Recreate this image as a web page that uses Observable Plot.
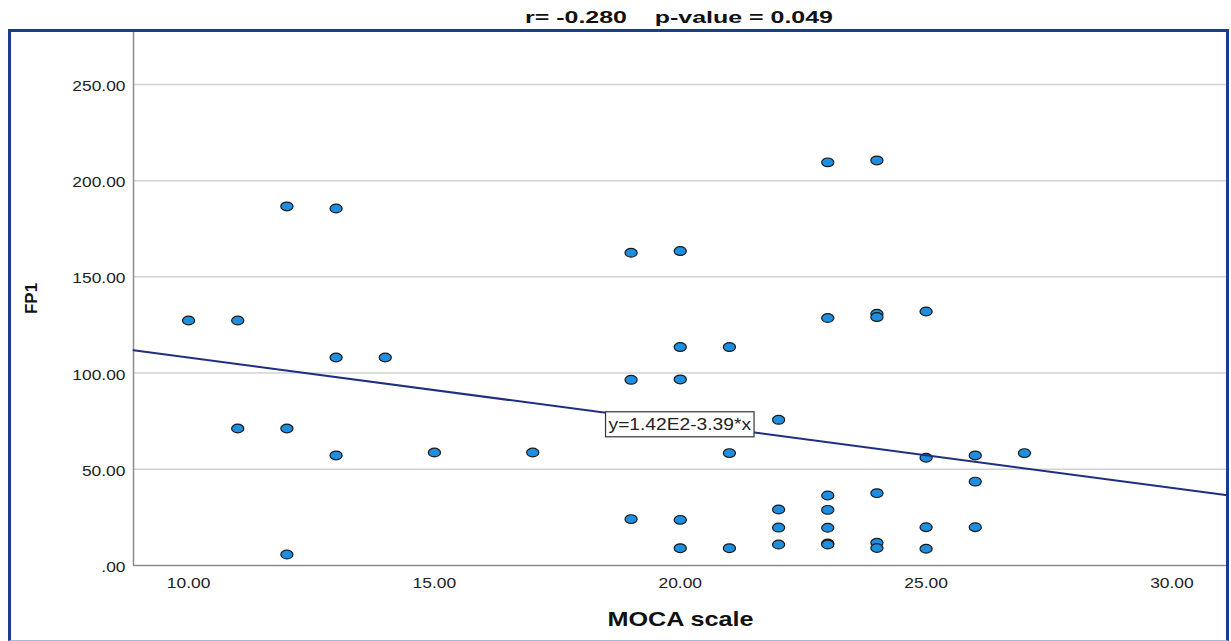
<!DOCTYPE html>
<html><head><meta charset="utf-8">
<script src="https://cdn.jsdelivr.net/npm/d3@7"></script>
<script src="https://cdn.jsdelivr.net/npm/@observablehq/plot@0.6"></script>
<style>
html,body{margin:0;padding:0;background:#fff;}
#page{position:relative;width:1231px;height:641px;overflow:hidden;font-family:"Liberation Sans",Arial,sans-serif;}
#title{position:absolute;left:679px;top:9px;font-weight:bold;font-size:17px;line-height:17px;white-space:pre;color:#111;transform-origin:center;}
#chart{position:absolute;left:0;top:29px;}
#frame{position:absolute;left:8px;top:29px;width:1221px;height:612px;box-sizing:border-box;border:3px solid #1c3a8e;border-bottom:1px solid #a8b8d8;pointer-events:none;}
</style></head><body>
<div id="page"><div id="title"></div><div id="chart"></div><div id="frame"></div></div>
<script>
const titleText = "r= -0.280    p-value = 0.049";
const xLabel = "MOCA scale";
const yLabel = "FP1";
const mocaScale = [10, 11, 11, 12, 12, 12, 13, 13, 13, 14, 15, 17,
  19, 19, 19, 20, 20, 20, 20, 20, 21, 21, 21,
  22, 22, 22, 22, 23, 23, 23, 23, 23, 23, 23,
  24, 24, 24, 24, 24, 24, 25, 25, 25, 25, 26, 26, 26, 27];
const fp1 = [127.3, 127.3, 71.2, 186.6, 71.2, 5.7, 185.5, 108.1, 57.2, 108.1, 58.7, 58.7,
  162.5, 96.5, 24.1, 163.4, 113.5, 96.7, 23.7, 9.0, 113.5, 58.4, 9.0,
  75.7, 29.1, 19.7, 10.9, 209.5, 128.6, 36.4, 28.9, 19.6, 11.4, 10.9,
  210.5, 130.8, 129.1, 37.6, 11.8, 9.1, 132.0, 56.0, 19.9, 8.7, 57.2, 43.6, 19.9, 58.4];
const xTicks = [10, 15, 20, 25, 30];
const yTicks = [0, 50, 100, 150, 200, 250];
const fitIntercept = 142;
const fitSlope = -3.39;
const fitLabel = "y=1.42E2-3.39*x";
const fitLabelAt = 18.46;
const xDomain = [8.88, 31.13];
const yDomain = [0, 277.5];

// title
const titleEl = document.getElementById("title");
titleEl.textContent = titleText;
const tw = titleEl.getBoundingClientRect().width;
titleEl.style.transform = `translateX(-50%) scaleX(${308 / tw})`;

const points = mocaScale.map((m, i) => ({moca: m, fp1: fp1[i]}));
const fit = x => fitIntercept + fitSlope * x;
const fitPts = xDomain.map(x => ({x, y: fit(x)}));
const labelPts = [{x: fitLabelAt, y: fit(fitLabelAt), t: fitLabel}];

const ellipse = {draw(ctx, size) {
  const r = Math.sqrt(size / Math.PI), rx = r * 1.32, ry = r * 0.95, k = 0.5523;
  ctx.moveTo(rx, 0);
  ctx.bezierCurveTo(rx, ry * k, rx * k, ry, 0, ry);
  ctx.bezierCurveTo(-rx * k, ry, -rx, ry * k, -rx, 0);
  ctx.bezierCurveTo(-rx, -ry * k, -rx * k, -ry, 0, -ry);
  ctx.bezierCurveTo(rx * k, -ry, rx, -ry * k, rx, 0);
  ctx.closePath();
}};

const fmtY = d => d === 0 ? ".00" : d.toFixed(2);

const svg = Plot.plot({
  width: 1231, height: 612,
  marginLeft: 133, marginRight: 4, marginTop: 2, marginBottom: 76,
  style: {fontFamily: "Liberation Sans, Arial, sans-serif", fontSize: "14.5px", color: "#222", background: "transparent", overflow: "visible"},
  x: {domain: xDomain},
  y: {domain: yDomain},
  marks: [
    Plot.ruleY(yTicks.filter(d => d > 0), {stroke: "#d2d2d2", strokeWidth: 1.5}),
    Plot.ruleY([yDomain[0]], {stroke: "#8c8c8c", strokeWidth: 1.5}),
    Plot.ruleX([xDomain[0]], {stroke: "#8c8c8c", strokeWidth: 1.5}),
    Plot.axisY({ticks: yTicks, tickSize: 0, tickPadding: 8, tickFormat: fmtY, label: null, dy: 2}),
    Plot.axisX({ticks: xTicks, tickSize: 0, tickPadding: 12, tickFormat: d => d.toFixed(2), label: null}),
    Plot.dot(points, {x: "moca", y: "fp1", r: 4.6, symbol: ellipse, fill: "#1e8fe0", stroke: "#1a1a1a", strokeWidth: 1.2}),
    Plot.line(fitPts, {x: "x", y: "y", stroke: "#1f2f80", strokeWidth: 2}),
    Plot.text(labelPts, {x: "x", y: "y", text: "t", textAnchor: "start", lineAnchor: "middle", dx: 4, dy: 12, fontSize: 16, fill: "#222"}),
    Plot.text([xLabel], {text: d => d, frameAnchor: "bottom", lineAnchor: "middle", dy: 54, fontWeight: "bold", fontSize: 21, fill: "#111"}),
    Plot.text([yLabel], {text: d => d, frameAnchor: "left", rotate: -90, dx: -102, textAnchor: "middle", lineAnchor: "middle", fontWeight: "bold", fontSize: 17, fill: "#111"})
  ]
});
document.getElementById("chart").appendChild(svg);

// horizontal stretch of glyphs to match the reference rendering
svg.querySelectorAll("text").forEach(t => {
  if (t.textContent === yLabel) return;
  const w = t.getComputedTextLength();
  t.setAttribute("textLength", (w * 1.2).toFixed(1));
  t.setAttribute("lengthAdjust", "spacingAndGlyphs");
});

// white box with border behind the fit equation
svg.querySelectorAll("text").forEach(t => {
  if (t.textContent !== fitLabel) return;
  const b = t.getBBox();
  const rect = document.createElementNS("http://www.w3.org/2000/svg", "rect");
  rect.setAttribute("x", b.x - 3);
  rect.setAttribute("y", b.y - 4);
  rect.setAttribute("width", b.width + 6);
  rect.setAttribute("height", b.height + 8);
  rect.setAttribute("fill", "#ffffff");
  rect.setAttribute("stroke", "#333333");
  rect.setAttribute("stroke-width", "1.2");
  const tr = t.getAttribute("transform");
  if (tr) rect.setAttribute("transform", tr);
  t.parentNode.insertBefore(rect, t);
});
</script>
</body></html>
